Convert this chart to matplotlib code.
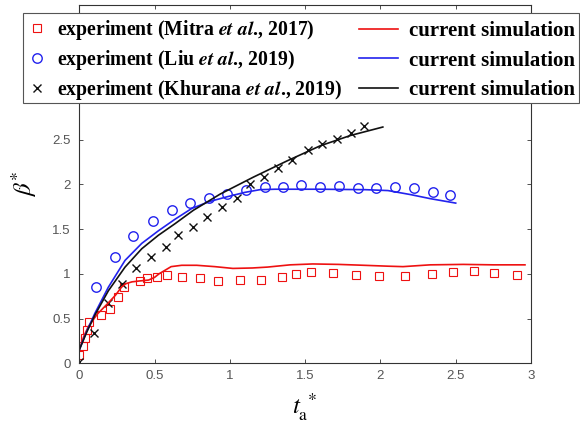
import numpy as np
import matplotlib
matplotlib.use('Agg')
import matplotlib.pyplot as plt
from matplotlib.legend_handler import HandlerLine2D
from matplotlib.patches import Rectangle

# experiment (Mitra et al., 2017)
mitra_x = [0.0, 0.027, 0.038, 0.049, 0.066, 0.142, 0.204, 0.259, 0.299, 0.403, 0.448,
           0.514, 0.581, 0.68, 0.80, 0.924, 1.07, 1.207, 1.345, 1.44, 1.54, 1.684,
           1.84, 1.99, 2.164, 2.343, 2.481, 2.62, 2.754, 2.904]
mitra_y = [0.09, 0.19, 0.28, 0.37, 0.46, 0.54, 0.61, 0.74, 0.85, 0.92, 0.95,
           0.96, 0.99, 0.96, 0.95, 0.92, 0.93, 0.93, 0.96, 1.00, 1.02, 1.01,
           0.99, 0.98, 0.98, 1.00, 1.02, 1.035, 1.01, 0.99]

# experiment (Liu et al., 2019)
liu_x = [0.111, 0.237, 0.359, 0.488, 0.614, 0.736, 0.86, 0.983, 1.108, 1.234,
         1.356, 1.473, 1.60, 1.726, 1.854, 1.971, 2.10, 2.222, 2.348, 2.465]
liu_y = [0.85, 1.19, 1.42, 1.59, 1.71, 1.79, 1.85, 1.89, 1.94, 1.97,
         1.97, 1.99, 1.97, 1.98, 1.955, 1.955, 1.975, 1.955, 1.91, 1.875]

# experiment (Khurana et al., 2019)
kh_x = [0.0, 0.098, 0.189, 0.282, 0.377, 0.476, 0.574, 0.658, 0.753, 0.851, 0.95,
        1.046, 1.134, 1.229, 1.322, 1.415, 1.517, 1.61, 1.71, 1.803, 1.894]
kh_y = [0.02, 0.34, 0.675, 0.89, 1.06, 1.19, 1.30, 1.43, 1.52, 1.64, 1.745,
        1.845, 2.00, 2.085, 2.18, 2.27, 2.38, 2.45, 2.505, 2.575, 2.65]

# current simulation curves
sim_r_x = [0.0, 0.03, 0.06, 0.12, 0.19, 0.24, 0.28, 0.31, 0.35, 0.40, 0.46, 0.50,
           0.53, 0.57, 0.61, 0.68, 0.78, 0.90, 1.02, 1.15, 1.25, 1.40, 1.55, 1.72,
           1.89, 2.05, 2.15, 2.33, 2.55, 2.75, 2.96]
sim_r_y = [0.15, 0.30, 0.41, 0.55, 0.67, 0.76, 0.85, 0.89, 0.91, 0.92, 0.93, 0.96,
           1.00, 1.04, 1.08, 1.095, 1.095, 1.08, 1.06, 1.065, 1.075, 1.10, 1.11, 1.105,
           1.095, 1.085, 1.08, 1.10, 1.105, 1.10, 1.10]

sim_b_x = [0.0, 0.05, 0.104, 0.193, 0.304, 0.415, 0.525, 0.636, 0.747, 0.86, 0.98,
           1.10, 1.2, 1.3, 1.6, 1.9, 2.05, 2.2, 2.33, 2.5]
sim_b_y = [0.15, 0.36, 0.56, 0.85, 1.15, 1.34, 1.48, 1.61, 1.73, 1.805, 1.86,
           1.91, 1.94, 1.945, 1.945, 1.94, 1.93, 1.885, 1.84, 1.79]

sim_k_x = [0.0, 0.05, 0.104, 0.193, 0.304, 0.415, 0.525, 0.636, 0.758, 0.935,
           1.156, 1.378, 1.60, 1.80, 2.016]
sim_k_y = [0.15, 0.35, 0.54, 0.81, 1.075, 1.28, 1.43, 1.56, 1.71, 1.89,
           2.08, 2.26, 2.43, 2.545, 2.64]

exp_labels = ['experiment (Mitra $\\mathbfit{et\\ al}$., 2017)',
              'experiment (Liu $\\mathbfit{et\\ al}$., 2019)',
              'experiment (Khurana $\\mathbfit{et\\ al}$., 2019)']
sim_labels = ['current simulation'] * 3

RED = '#ee1111'
BLUE = '#2222ee'
BLACK = '#111111'

plt.rcParams['mathtext.fontset'] = 'stix'


class LongLine(HandlerLine2D):
    # line handles reach further left than the marker handles
    def create_artists(self, legend, orig_handle, xdescent, ydescent,
                       width, height, fontsize, trans):
        ext = 0.9 * fontsize
        return super().create_artists(legend, orig_handle, xdescent + ext, ydescent,
                                      width + ext, height, fontsize, trans)


fig = plt.figure(figsize=(5.8, 4.25), dpi=100)
ax = fig.add_axes([0.1367, 0.1452, 0.7788, 0.8423])

h1, = ax.plot(mitra_x, mitra_y, 's', mfc='none', mec=RED, ms=5.2, mew=0.8)
h2, = ax.plot(liu_x, liu_y, 'o', mfc='none', mec=BLUE, ms=6.8, mew=1.0)
h3, = ax.plot(kh_x, kh_y, 'x', color=BLACK, ms=5.5, mew=1.0)
l1, = ax.plot(sim_r_x, sim_r_y, '-', color=RED, lw=1.2)
l2, = ax.plot(sim_b_x, sim_b_y, '-', color=BLUE, lw=1.2)
l3, = ax.plot(sim_k_x, sim_k_y, '-', color=BLACK, lw=1.2)

ax.set_xlim(0, 3)
ax.set_ylim(0, 4)
yt = np.arange(0, 4.01, 0.5)
ax.set_xticks(np.arange(0, 3.01, 0.5))
ax.set_yticks(yt)
ax.xaxis.set_major_formatter(matplotlib.ticker.FormatStrFormatter('%g'))
ax.set_yticklabels(['%g' % v if v <= 2.5 else '' for v in yt])

for s in ax.spines.values():
    s.set_color('#333333')
    s.set_linewidth(0.8)
ax.tick_params(direction='in', top=True, right=True, length=3, width=0.6,
               colors='#333333', labelcolor='#555555', labelsize=9.5, pad=5)
ax.tick_params(axis='y', pad=6)
for lab in ax.get_xticklabels() + ax.get_yticklabels():
    lab.set_family('Liberation Sans')

ax.set_ylabel(r'$\beta^{*}$', fontsize=18)
ax.yaxis.set_label_coords(-0.09, 0.5)
ax.set_xlabel(r'$t_{\mathrm{a}}^{\ *}$', fontsize=18)
ax.xaxis.set_label_coords(0.5, -0.08)

# legend frame shared by the two columns
fig.patches.append(Rectangle((22.7 / 580, 1 - 103.3 / 425), 556.6 / 580, 90.6 / 425,
                             transform=fig.transFigure, facecolor='white',
                             edgecolor='#555555', linewidth=0.8, zorder=4))

prop1 = {'family': 'Liberation Serif', 'weight': 'bold', 'size': 14.2}
prop2 = {'family': 'Liberation Serif', 'weight': 'bold', 'size': 15.0}
leg1 = fig.legend([h1, h2, h3], exp_labels, loc='upper left',
                  bbox_to_anchor=(22.7 / 580, 1 - 12.7 / 425), borderaxespad=0,
                  prop=prop1, handlelength=1.0, handletextpad=0.5, borderpad=0.25,
                  labelspacing=0.32, numpoints=1, frameon=False)
leg2 = fig.legend([l1, l2, l3], sim_labels, loc='upper right',
                  bbox_to_anchor=(579.3 / 580, 1 - 16.5 / 425), borderaxespad=0,
                  prop=prop2, handlelength=1.0, handletextpad=0.5, borderpad=0.22,
                  labelspacing=0.46, frameon=False,
                  handler_map={l1: LongLine(), l2: LongLine(), l3: LongLine()})

fig.savefig('out.png', dpi=100)
